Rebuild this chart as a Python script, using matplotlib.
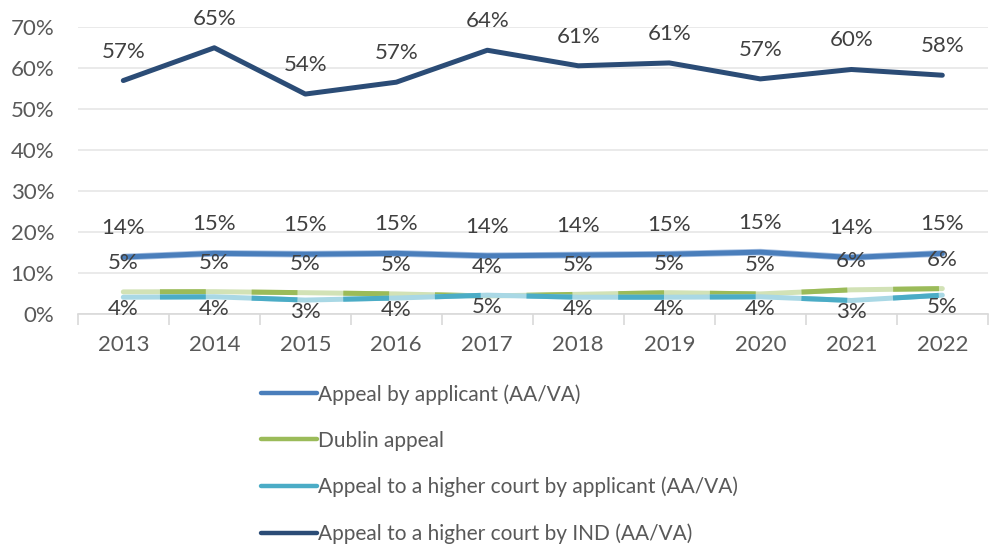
import matplotlib
matplotlib.use("Agg")
import matplotlib.pyplot as plt
from matplotlib.ticker import FuncFormatter, FixedLocator

plt.rcParams['font.family'] = ['Lato', 'DejaVu Sans']
plt.rcParams['lines.scale_dashes'] = False

years = ['2013', '2014', '2015', '2016', '2017', '2018', '2019', '2020', '2021', '2022']
appeal_applicant = [13.9, 14.8, 14.6, 14.8, 14.2, 14.4, 14.6, 15.1, 13.8, 14.8]
dublin_appeal = [5.4, 5.45, 5.2, 4.9, 4.4, 4.8, 5.2, 4.9, 5.9, 6.2]
higher_applicant = [4.1, 4.2, 3.4, 3.9, 4.6, 4.1, 4.1, 4.2, 3.3, 4.6]
higher_ind = [57.0, 65.0, 53.7, 56.6, 64.4, 60.6, 61.3, 57.4, 59.7, 58.3]

labels = ['Appeal by applicant (AA/VA)', 'Dublin appeal',
          'Appeal to a higher court by applicant (AA/VA)',
          'Appeal to a higher court by IND (AA/VA)']

c_blue, c_blue_l = '#4a7ebb', '#a7c1e3'
c_green, c_green_l = '#9bbb59', '#d2e2b6'
c_teal, c_teal_l = '#4bacc6', '#a9d8e5'
c_navy = '#2b4c76'
txt = '#404040'
axtxt = '#595959'

fig = plt.figure(figsize=(9.95, 5.46), dpi=100)
ax = fig.add_axes([77.8 / 995, 1 - 314 / 546, 910 / 995, (314 - 27.3) / 546])

x = list(range(len(years)))
lw = 3.6
dash = (39.6, (33, 33))

# soft edge under the blue line
ax.plot(x, appeal_applicant, color=c_blue_l, lw=lw + 1.2, solid_capstyle='round', zorder=2)
ax.plot(x, appeal_applicant, color=c_blue, lw=lw, solid_capstyle='round', zorder=3)

ax.plot(x, dublin_appeal, color=c_green_l, lw=lw, solid_capstyle='round', zorder=4)
ax.plot(x, dublin_appeal, color=c_green, lw=lw, linestyle=dash, dash_capstyle='butt', zorder=4.1)
ax.plot(x, higher_applicant, color=c_teal_l, lw=lw, solid_capstyle='round', zorder=5)
ax.plot(x, higher_applicant, color=c_teal, lw=lw, linestyle=dash, dash_capstyle='butt', zorder=5.1)
ax.plot(x, higher_ind, color=c_navy, lw=lw, solid_capstyle='round', zorder=6)

fs = 16


def put_labels(vals, dy):
    for xi, v in zip(x, vals):
        ax.annotate(f'{round(v):d}%', (xi, v), xytext=(0, dy), textcoords='offset pixels',
                    ha='center', va='center', fontsize=fs, color=txt, zorder=10)


put_labels(appeal_applicant, 29)
put_labels(dublin_appeal, 29)
put_labels(higher_applicant, -12)
put_labels(higher_ind, 29)

ax.set_xlim(-0.5, len(years) - 0.5)
ax.set_ylim(0, 70)
ax.set_yticks(range(0, 71, 10))
ax.yaxis.set_major_formatter(FuncFormatter(lambda v, p: f'{v:.0f}%'))
ax.grid(axis='y', color='#e6e6e6', lw=1.2)
ax.set_axisbelow(True)
ax.set_xticks(x)
ax.set_xticklabels(years)
ax.xaxis.set_minor_locator(FixedLocator([i - 0.5 for i in range(len(years) + 1)]))
ax.tick_params(axis='x', which='major', length=0, pad=15, labelsize=fs, labelcolor=axtxt)
ax.tick_params(axis='x', which='minor', length=8, width=1.2, color='#d9d9d9')
ax.tick_params(axis='y', length=0, pad=17, labelsize=fs, labelcolor=axtxt)
for s in ['top', 'right', 'left']:
    ax.spines[s].set_visible(False)
ax.spines['bottom'].set_color('#d9d9d9')
ax.spines['bottom'].set_linewidth(1.2)

handles = [plt.Line2D([], [], color=c, lw=3.2, solid_capstyle='round')
           for c in [c_blue, c_green, c_teal, c_navy]]
fig.legend(handles, labels, loc='upper left', bbox_to_anchor=(261 / 995, 1 - 384 / 546),
           frameon=False, fontsize=15, labelcolor=axtxt, handlelength=2.7,
           handletextpad=0.05, labelspacing=1.25, borderaxespad=0, borderpad=0)

fig.savefig('out.png', dpi=100)
